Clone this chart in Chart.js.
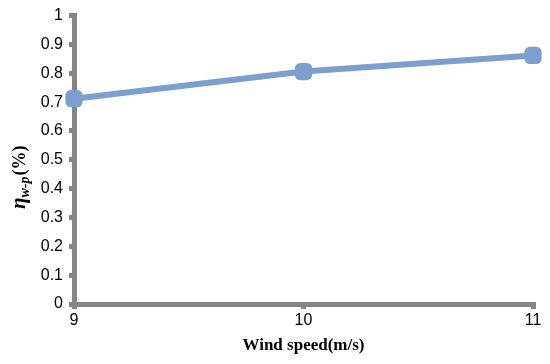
<!DOCTYPE html>
<html>
<head>
<meta charset="utf-8">
<script src="https://cdn.jsdelivr.net/npm/chart.js@4/dist/chart.umd.min.js"></script>
<style>
  html, body { margin: 0; padding: 0; background: #fff; }
  #wrap { width: 550px; height: 364px; }
</style>
</head>
<body>
<div id="wrap"><canvas id="effChart"></canvas></div>
<script>
// data
const windSpeed = [9, 10, 11];
const efficiency = [0.712, 0.806, 0.862];
const xTicks = [9, 10, 11];

const axisGrey = '#858585';
const lineBlue = '#7b9fcf';

// y title with subscript, drawn as text on the canvas
const yTitlePlugin = {
  id: 'yTitle',
  afterDraw(chart) {
    const c = chart.ctx;
    c.save();
    c.translate(19, 166);
    c.rotate(-Math.PI / 2);
    c.fillStyle = '#000';
    c.textBaseline = 'alphabetic';
    let x = -43;
    c.font = 'bold italic 21px "Liberation Serif"';
    c.fillText('η', x, 6);
    x += c.measureText('η').width;
    c.font = 'bold italic 14px "Liberation Serif"';
    c.fillText('w-p', x, 10);
    x += c.measureText('w-p').width + 1;
    c.font = 'bold 18px "Liberation Serif"';
    c.fillText('(%)', x, 6);
    c.restore();
  }
};

new Chart(document.getElementById('effChart'), {
  type: 'line',
  data: {
    datasets: [{
      data: windSpeed.map((v, i) => ({ x: v, y: efficiency[i] })),
      borderColor: lineBlue,
      backgroundColor: lineBlue,
      borderWidth: 6,
      pointStyle: 'rectRounded',
      pointRadius: 10,
      pointBorderWidth: 0,
      tension: 0,
      clip: false
    }]
  },
  options: {
    responsive: true,
    maintainAspectRatio: false,
    animation: false,
    devicePixelRatio: 1,
    layout: { padding: { top: 13, right: 17, left: 0, bottom: 0 } },
    plugins: { legend: { display: false }, tooltip: { enabled: false } },
    scales: {
      x: {
        type: 'linear',
        min: 9,
        max: 11,
        afterBuildTicks: s => { s.ticks = xTicks.map(v => ({ value: v })); },
        afterFit: s => { s.height = 60; },
        border: { color: axisGrey, width: 5 },
        grid: { drawOnChartArea: false, color: axisGrey, lineWidth: 5, tickLength: 5 },
        ticks: { color: '#000', font: { family: '"Liberation Sans"', size: 16 }, padding: 2, maxRotation: 0 },
        title: {
          display: true,
          text: 'Wind speed(m/s)',
          color: '#000',
          font: { family: '"Liberation Serif"', size: 17, weight: 'bold' },
          padding: { top: 0, bottom: 8 }
        }
      },
      y: {
        min: 0,
        max: 1,
        afterFit: s => { s.width = 74; },
        border: { color: axisGrey, width: 5 },
        grid: { drawOnChartArea: false, color: axisGrey, lineWidth: 5, tickLength: 5 },
        ticks: {
          stepSize: 0.1,
          color: '#000',
          font: { family: '"Liberation Sans"', size: 16 },
          padding: 6,
          callback: v => String(Math.round(v * 10) / 10)
        }
      }
    }
  },
  plugins: [yTitlePlugin]
});
</script>
</body>
</html>
